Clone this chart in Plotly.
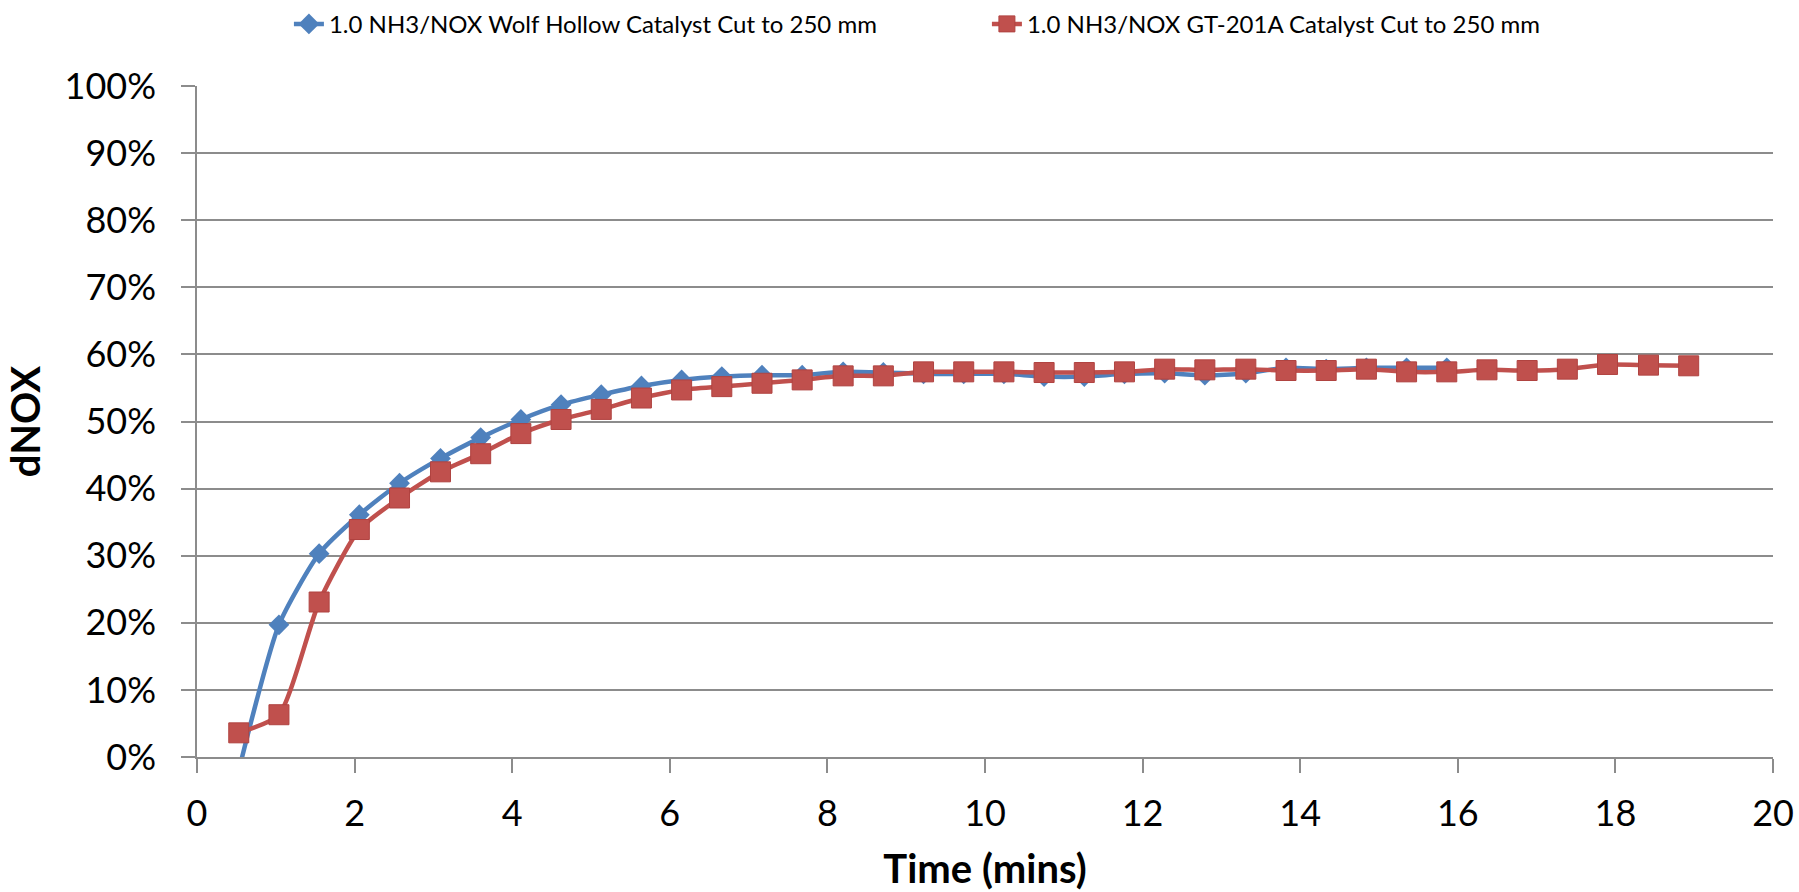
import plotly.graph_objects as go

time_mins = [0.53, 1.04, 1.55, 2.06, 2.57, 3.09, 3.60, 4.11, 4.62, 5.13,
             5.64, 6.15, 6.66, 7.17, 7.68, 8.20, 8.71, 9.22, 9.73, 10.24,
             10.75, 11.26, 11.77, 12.28, 12.79, 13.31, 13.82, 14.33, 14.84, 15.35,
             15.86, 16.37, 16.88, 17.39, 17.90, 18.42, 18.93]

wolf_hollow = [-0.020, 0.197, 0.303, 0.361, 0.408, 0.445, 0.476, 0.503, 0.525, 0.540,
               0.553, 0.562, 0.567, 0.569, 0.569, 0.574, 0.573, 0.571, 0.571, 0.571,
               0.567, 0.567, 0.571, 0.572, 0.569, 0.572, 0.580, 0.578, 0.580, 0.580,
               0.580]

gt_201a = [0.036, 0.063, 0.231, 0.339, 0.386, 0.425, 0.452, 0.482, 0.503, 0.518,
           0.535, 0.547, 0.552, 0.557, 0.562, 0.568, 0.568, 0.574, 0.574, 0.574,
           0.573, 0.573, 0.574, 0.578, 0.577, 0.578, 0.576, 0.576, 0.578, 0.574,
           0.574, 0.577, 0.576, 0.578, 0.585, 0.584, 0.583]

name_blue = "1.0 NH3/NOX Wolf Hollow Catalyst Cut to 250 mm"
name_red = "1.0 NH3/NOX GT-201A Catalyst Cut to 250 mm"

BLUE = "#4F81BD"
RED = "#C0504D"
GRID = "#8C8C8C"

fig = go.Figure()
fig.add_trace(go.Scatter(
    x=time_mins[:len(wolf_hollow)], y=wolf_hollow, name=name_blue,
    mode="lines+markers",
    line=dict(color=BLUE, width=4.5, shape="spline", smoothing=0.6),
    marker=dict(symbol="diamond", size=16, color=BLUE, line=dict(width=0)),
))
fig.add_trace(go.Scatter(
    x=time_mins[:len(gt_201a)], y=gt_201a, name=name_red,
    mode="lines+markers",
    line=dict(color=RED, width=4.5, shape="spline", smoothing=0.6),
    marker=dict(symbol="square", size=20, color=RED, line=dict(width=1, color="#B04340")),
))

fig.update_layout(
    width=1799, height=892,
    paper_bgcolor="white", plot_bgcolor="white",
    margin=dict(l=197, r=26, t=86, b=135, autoexpand=False),
    font=dict(family="Lato", color="black"),
    showlegend=True,
    legend=dict(
        orientation="h", xref="container", yref="container",
        x=0.1606, xanchor="left", y=0.998, yanchor="top",
        font=dict(family="Lato", size=24, color="black"),
        entrywidth=653, entrywidthmode="pixels",
        bgcolor="rgba(0,0,0,0)",
    ),
    xaxis=dict(
        range=[0, 20], dtick=2, tick0=0,
        showgrid=False, zeroline=False,
        showline=True, linecolor=GRID, linewidth=1.5,
        ticks="outside", ticklen=14, tickwidth=1.5, tickcolor=GRID,
        tickfont=dict(family="Lato", size=36, color="black"),
        ticklabelstandoff=10,
        title=dict(text="<b>Time (mins)</b>", standoff=30,
                   font=dict(family="Lato", size=40, color="black")),
        automargin=False,
    ),
    yaxis=dict(
        range=[0, 1], dtick=0.1, tick0=0, tickformat=".0%",
        showgrid=True, gridcolor=GRID, gridwidth=1.5,
        zeroline=False,
        showline=True, linecolor=GRID, linewidth=1.5,
        ticks="outside", ticklen=14, tickwidth=1.5, tickcolor=GRID,
        tickfont=dict(family="Lato", size=36, color="black"),
        ticklabelstandoff=18,
        title=dict(text="<b>dNOX</b>", standoff=12,
                   font=dict(family="Lato", size=40, color="black")),
        automargin=False,
    ),
)

fig.write_html("out.html")
